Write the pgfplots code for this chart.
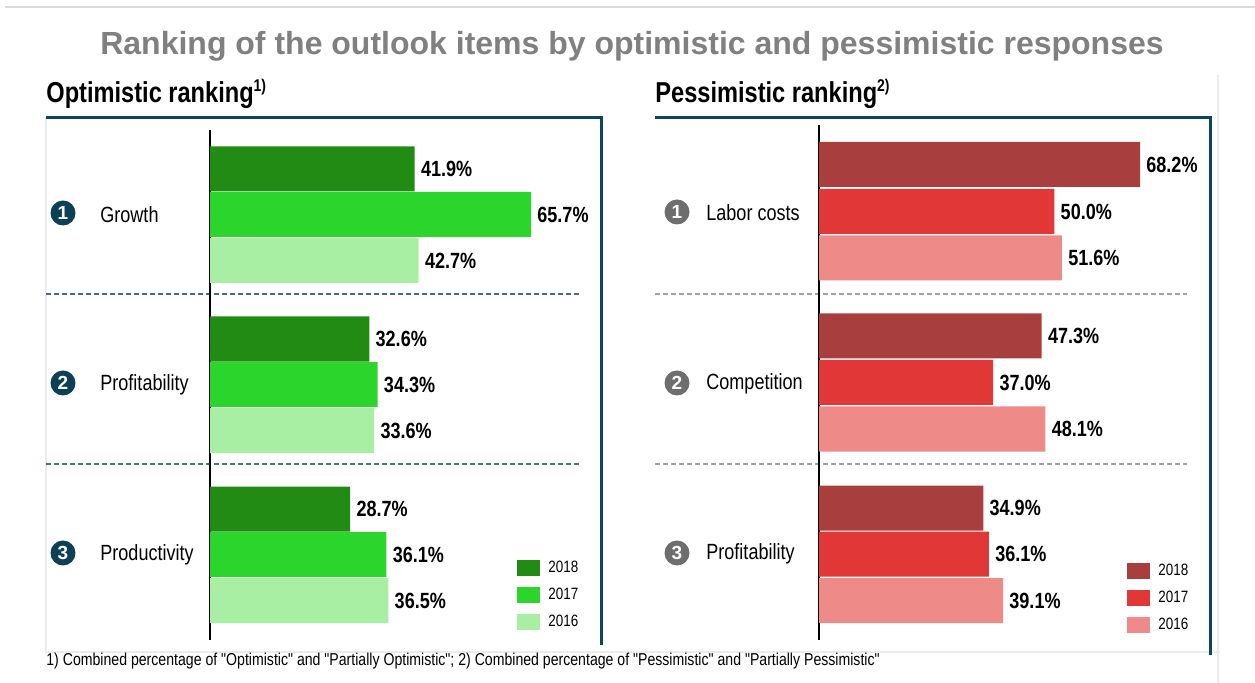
\documentclass[border=0pt]{standalone}
\usepackage{fontspec}
\setmainfont{Liberation Sans}
\newfontfamily\narrow[FakeStretch=0.82]{Liberation Sans}
\usepackage{pgfplots}
\pgfplotsset{compat=1.18}
\definecolor{gA}{RGB}{34,139,20}
\definecolor{gB}{RGB}{43,213,43}
\definecolor{gC}{RGB}{169,239,163}
\definecolor{rA}{RGB}{168,62,62}
\definecolor{rB}{RGB}{226,55,55}
\definecolor{rC}{RGB}{238,138,136}
\definecolor{frameC}{RGB}{13,70,92}
\definecolor{circL}{RGB}{13,63,85}
\definecolor{circR}{RGB}{110,110,110}
\definecolor{titleg}{RGB}{128,128,128}
\definecolor{dashL}{RGB}{70,110,125}
\definecolor{dashR}{RGB}{160,160,160}
\pgfplotsset{rank/.style={
  xbar, bar width=45, bar shift=0pt, scale only axis, clip=false,
  xmin=0, xmax=80, y dir=reverse,
  hide x axis, axis y line*=left, ytick=\empty,
  y axis line style={-,black,line width=0.6pt},
  point meta=x,
  /pgf/number format/assume math mode=true,
  nodes near coords={\pgfmathprintnumber[fixed,fixed zerofill,precision=1,assume math mode=true]{\pgfplotspointmeta}\%},
  nodes near coords style={anchor=west, inner sep=0pt, xshift=3pt, font=\narrow\bfseries\fontsize{11}{13}\selectfont, text=black},
  legend image code/.code={\fill[##1] (0pt,-4pt) rectangle (11.5pt,4pt);},
  legend style={draw=none, fill=none, inner sep=0pt, anchor=north west,
    font=\narrow\fontsize{8.2}{9}\selectfont, row sep=5.5pt, column sep=4pt,
    nodes={inner sep=0pt}},
  legend cell align=left,
}}
\begin{document}
\begin{tikzpicture}
\begin{scope}[x=0.5pt,y=-0.5pt]
\draw[black!15, line width=1pt] (5,7) -- (1255,7);
\node[anchor=base, inner sep=0pt, text=titleg, font=\bfseries\fontsize{16}{19}\selectfont] at (632,55) {Ranking of the outlook items by optimistic and pessimistic responses};
\node[anchor=base west, inner sep=0pt, font=\narrow\bfseries\fontsize{14.4}{16}\selectfont] at (46,103) {Optimistic ranking\raisebox{5.5pt}{\fontsize{8.5}{9}\selectfont 1)}};
\node[anchor=base west, inner sep=0pt, font=\narrow\bfseries\fontsize{14.4}{16}\selectfont] at (655,103) {Pessimistic ranking\raisebox{5.5pt}{\fontsize{8.5}{9}\selectfont 2)}};
\draw[black!8, line width=0.6pt] (46,118) -- (46,652) -- (1220,652);
\draw[black!8, line width=0.6pt] (1218,75) -- (1218,683);
\draw[frameC, line width=1.5pt] (46,118) -- (601,118) -- (601,645);
\draw[frameC, line width=1.5pt] (655,118) -- (1210,118) -- (1210,655);
\draw[dashL, line width=0.6pt, dash pattern=on 2.5pt off 1.5pt] (46,294) -- (580,294);
\draw[dashL, line width=0.6pt, dash pattern=on 2.5pt off 1.5pt] (46,464) -- (580,464);
\draw[dashR, line width=0.6pt, dash pattern=on 2.5pt off 1.5pt] (655,294) -- (1187,294);
\draw[dashR, line width=0.6pt, dash pattern=on 2.5pt off 1.5pt] (655,464) -- (1187,464);
% circles and labels
\foreach \n/\y/\t in {1/213/Growth,2/383/Profitability,3/553/Productivity}{
  \fill[circL] (63,\y) circle (6.25pt);
  \node[text=white, inner sep=0pt, font=\bfseries\fontsize{9.5}{10}\selectfont] at (63,\y) {\n};
  \node[anchor=west, inner sep=0pt, font=\narrow\fontsize{11}{13}\selectfont] at (100,\y+2) {\t};
}
\foreach \n/\y/\t in {1/212/Labor costs,2/383/Competition,3/553/Profitability}{
  \fill[circR] (677,\y) circle (6.25pt);
  \node[text=white, inner sep=0pt, font=\bfseries\fontsize{9.5}{10}\selectfont] at (677,\y) {\n};
  \node[anchor=west, inner sep=0pt, font=\narrow\fontsize{11}{13}\selectfont] at (706,\y+1) {\t};
}
\node[anchor=base west, inner sep=0pt, font=\narrow\fontsize{8.6}{10}\selectfont] at (46,666) {1) Combined percentage of "Optimistic" and "Partially Optimistic"; 2) Combined percentage of "Pessimistic" and "Partially Pessimistic"};
\end{scope}

\begin{axis}[rank, at={(105pt,-320pt)}, anchor=south west,
  width=195.44pt, height=255pt, ymin=130, ymax=640,
  legend style={at={(0.7854,0.1569)}}]
\addplot[fill=gA, draw=none] coordinates {(41.9,169) (32.6,339) (28.7,509)};
\addplot[fill=gB, draw=none] coordinates {(65.7,214.5) (34.3,384.5) (36.1,554.5)};
\addplot[fill=gC, draw=none] coordinates {(42.7,260.5) (33.6,430.5) (36.5,600.5)};
\legend{2018,2017,2016}
\end{axis}

\begin{axis}[rank, at={(409.5pt,-320pt)}, anchor=south west,
  width=188.28pt, height=257.5pt, ymin=125, ymax=640,
  legend style={at={(0.8179,0.1495)}}]
\addplot[fill=rA, draw=none] coordinates {(68.2,164.5) (47.3,336) (34.9,508)};
\addplot[fill=rB, draw=none] coordinates {(50.0,211.5) (37.0,382.5) (36.1,554)};
\addplot[fill=rC, draw=none] coordinates {(51.6,258) (48.1,429) (39.1,600.5)};
\legend{2018,2017,2016}
\end{axis}

\pgfresetboundingbox
\useasboundingbox (0pt,0pt) rectangle (627.5pt,-341.5pt);
\end{tikzpicture}
\end{document}
